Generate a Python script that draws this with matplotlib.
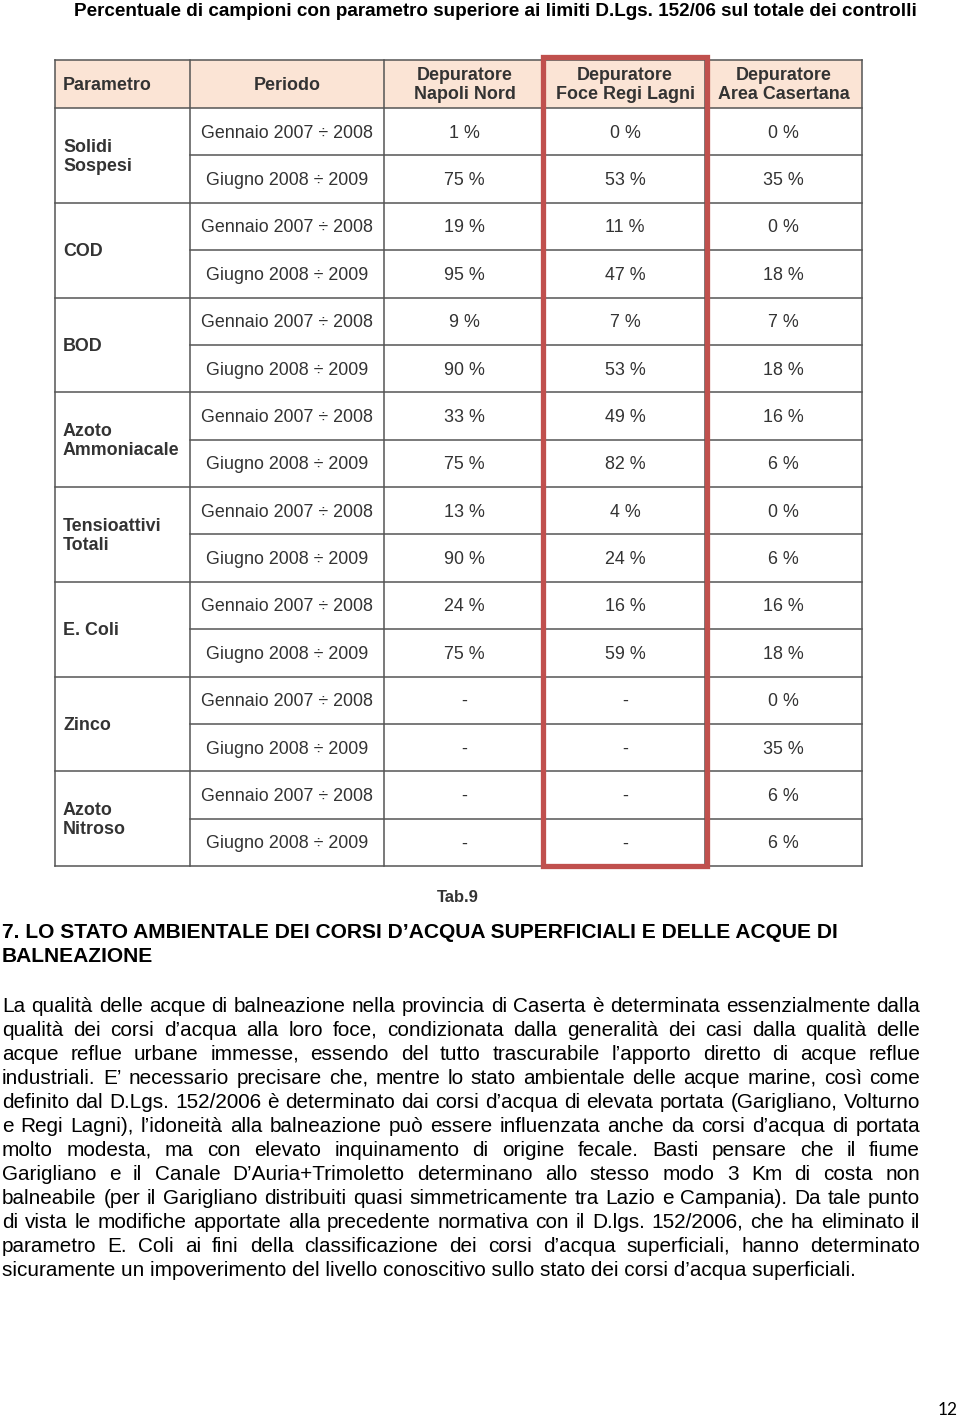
import matplotlib
matplotlib.use("Agg")
import matplotlib.pyplot as plt
import matplotlib.patches as mpatches

# ---------------------------------------------------------------------------
# Data
# ---------------------------------------------------------------------------
title = ("Percentuale di campioni con parametro superiore ai limiti "
         "D.Lgs. 152/06 sul totale dei controlli")

header = ["Parametro", "Periodo", "Depuratore\nNapoli Nord",
          "Depuratore\nFoce Regi Lagni", "Depuratore\nArea Casertana"]
parametri = ["Solidi\nSospesi", "COD", "BOD", "Azoto\nAmmoniacale",
             "Tensioattivi\nTotali", "E. Coli", "Zinco", "Azoto\nNitroso"]
periodi = ["Gennaio 2007 \u00f7 2008", "Giugno 2008 \u00f7 2009"]

napoli_nord = [1, 75, 19, 95, 9, 90, 33, 75, 13, 90, 24, 75, None, None, None, None]
foce_regi_lagni = [0, 53, 11, 47, 7, 53, 49, 82, 4, 24, 16, 59, None, None, None, None]
area_casertana = [0, 35, 0, 18, 7, 18, 16, 6, 0, 6, 16, 18, 0, 35, 6, 6]

heading = ["7. LO STATO AMBIENTALE DEI CORSI D\u2019ACQUA SUPERFICIALI E DELLE ACQUE DI",
           "BALNEAZIONE"]

body = [
    "La qualità delle acque di balneazione nella provincia di Caserta è determinata essenzialmente dalla",
    "qualità dei corsi d\u2019acqua alla loro foce, condizionata dalla generalità dei casi dalla qualità delle",
    "acque reflue urbane immesse, essendo del tutto trascurabile l\u2019apporto diretto di acque reflue",
    "industriali. E\u2019 necessario precisare che, mentre lo stato ambientale delle acque marine, così come",
    "definito dal D.Lgs. 152/2006 è determinato dai corsi d\u2019acqua di elevata portata (Garigliano, Volturno",
    "e Regi Lagni), l\u2019idoneità alla balneazione può essere influenzata anche da corsi d\u2019acqua di portata",
    "molto modesta, ma con elevato inquinamento di origine fecale. Basti pensare che il fiume",
    "Garigliano e il Canale D\u2019Auria+Trimoletto determinano allo stesso modo 3 Km di costa non",
    "balneabile (per il Garigliano distribuiti quasi simmetricamente tra Lazio e Campania). Da tale punto",
    "di vista le modifiche apportate alla precedente normativa con il D.lgs. 152/2006, che ha eliminato il",
    "parametro E. Coli ai fini della classificazione dei corsi d\u2019acqua superficiali, hanno determinato",
    "sicuramente un impoverimento del livello conoscitivo sullo stato dei corsi d\u2019acqua superficiali.",
]

FONT = "Liberation Sans"
CELL_TXT = "#333333"
GRID = "#555555"
HEAD_FILL = "#fbe4d5"
RED = "#c0504d"

# ---------------------------------------------------------------------------
# Canvas in pixel coordinates
# ---------------------------------------------------------------------------
fig = plt.figure(figsize=(9.6, 14.18), dpi=100)
ax = fig.add_axes([0, 0, 1, 1])
ax.set_xlim(0, 960)
ax.set_ylim(1418, 0)
ax.axis("off")
renderer = fig.canvas.get_renderer()


def text_width(s, **kw):
    t = ax.text(0, 0, s, **kw)
    w = t.get_window_extent(renderer).width
    t.remove()
    return w


def fit_size(s, target, **kw):
    return 10 * target / text_width(s, fontsize=10, **kw)


# title
ts = fit_size(title, 841, family=FONT, fontweight="bold")
ax.text(495, 12, title, fontsize=ts, family=FONT, fontweight="bold",
        ha="center", va="center", color="black")

# ---------------------------------------------------------------------------
# Table
# ---------------------------------------------------------------------------
col_x = [55, 190, 384, 545, 705, 862]
top, head_bot, bot = 60, 108, 866
n_rows = len(parametri) * len(periodi)
row_h = (bot - head_bot) / n_rows
fs = 12.9
dy = 1.5  # small downward nudge of cell text

ax.add_patch(mpatches.Rectangle((col_x[0], top), col_x[-1] - col_x[0], head_bot - top,
                                facecolor=HEAD_FILL, edgecolor="none", zorder=0))

lw = 1.1
for x in col_x:
    ax.plot([x, x], [top, bot], color=GRID, lw=lw, zorder=1)
ax.plot([col_x[0], col_x[-1]], [top, top], color=GRID, lw=lw, zorder=1)
for r in range(n_rows + 1):
    y = head_bot + r * row_h
    x0 = col_x[0] if r % 2 == 0 else col_x[1]
    ax.plot([x0, col_x[-1]], [y, y], color=GRID, lw=lw, zorder=1)

# header
hy = (top + head_bot) / 2 + 1
ax.text(63, hy, header[0], fontsize=fs, family=FONT, fontweight="bold",
        color=CELL_TXT, ha="left", va="center")
for i, h in enumerate(header[1:], start=1):
    cx = (col_x[i] + col_x[i + 1]) / 2
    ax.text(cx, hy, h, fontsize=fs, family=FONT, fontweight="bold", color=CELL_TXT,
            ha="center", va="center", linespacing=1.12)

# body cells
for g, p in enumerate(parametri):
    gy = head_bot + (2 * g + 1) * row_h + dy
    ax.text(63, gy, p, fontsize=fs, family=FONT, fontweight="bold", color=CELL_TXT,
            ha="left", va="center", linespacing=1.18)

columns = [napoli_nord, foce_regi_lagni, area_casertana]
for r in range(n_rows):
    cy = head_bot + (r + 0.5) * row_h + dy
    ax.text((col_x[1] + col_x[2]) / 2, cy, periodi[r % 2], fontsize=fs, family=FONT,
            color=CELL_TXT, ha="center", va="center")
    for c, vals in enumerate(columns):
        v = vals[r]
        s = "-" if v is None else f"{v} %"
        ax.text((col_x[c + 2] + col_x[c + 3]) / 2, cy, s, fontsize=fs, family=FONT,
                color=CELL_TXT, ha="center", va="center")

# red highlight around Foce Regi Lagni
ax.add_patch(mpatches.Rectangle((543, 57), 164, 809, facecolor="none",
                                edgecolor=RED, lw=3.8, zorder=3))

ax.text(458, 897, "Tab.9", fontsize=11.9, family=FONT, fontweight="bold",
        color=CELL_TXT, ha="center", va="center")

# ---------------------------------------------------------------------------
# Heading and justified paragraph
# ---------------------------------------------------------------------------
hs = fit_size(heading[0], 836, family=FONT, fontweight="bold")
for i, line in enumerate(heading):
    ax.text(2, 933 + i * 24, line, fontsize=hs, family=FONT, fontweight="bold",
            color="black", ha="left", va="center")

bs = fit_size(body[-1], 856, family=FONT)
em_px = bs * 100 / 72
left, right = 2, 920
for i, line in enumerate(body):
    base = 1005 + i * 24 + 0.255 * em_px + 1.5
    if i == len(body) - 1:
        ax.text(left, base, line, fontsize=bs, family=FONT, color="black",
                ha="left", va="baseline")
        continue
    words = line.split(" ")
    widths = [text_width(w, fontsize=bs, family=FONT) for w in words]
    gap = (right - left - sum(widths)) / (len(words) - 1)
    x = left
    for w, wd in zip(words, widths):
        ax.text(x, base, w, fontsize=bs, family=FONT, color="black",
                ha="left", va="baseline")
        x += wd + gap

ax.text(958, 1410, "12", fontsize=12.4, family="Lato", color="black",
        ha="right", va="center")

fig.savefig("out.png", dpi=100)
